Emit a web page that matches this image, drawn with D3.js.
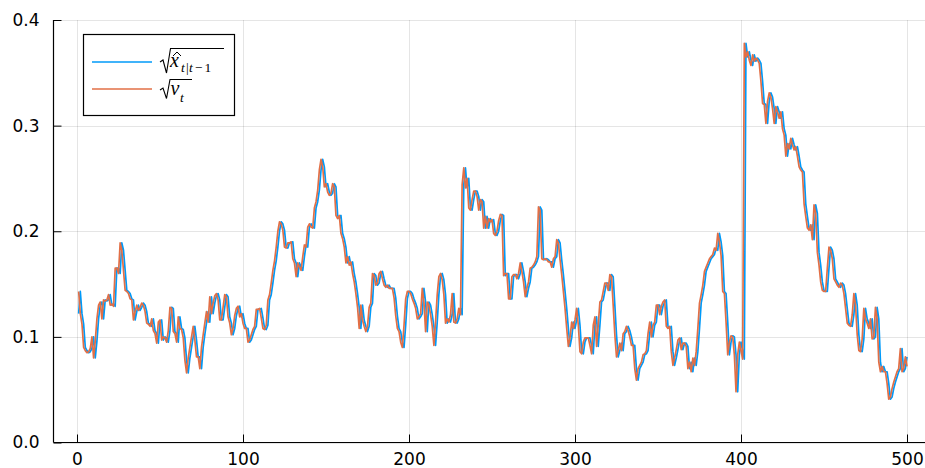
<!DOCTYPE html>
<html>
<head>
<meta charset="utf-8">
<script src="https://cdn.jsdelivr.net/npm/d3@7"></script>
<style>
  body { margin: 0; background: #fff; }
  svg { display: block; }
</style>
</head>
<body>
<svg id="chart" width="925" height="468"></svg>
<script>
// tick values
const xTicks = [0, 100, 200, 300, 400, 500];
const yTicks = [0.0, 0.1, 0.2, 0.3, 0.4];

// sqrt(x̂_{t|t-1}), t = 1..500
const predicted = [
  .122,.143,.122,.112,.090,.087,.085,.086,.089,.100,
  .080,.096,.117,.130,.133,.117,.135,.134,.135,.140,
  .130,.131,.129,.165,.165,.160,.189,.182,.163,.144,
  .143,.141,.136,.135,.116,.124,.130,.125,.128,.132,
  .130,.124,.113,.112,.110,.117,.106,.103,.094,.114,
  .116,.097,.100,.099,.095,.106,.128,.127,.105,.103,
  .095,.119,.108,.107,.099,.078,.066,.080,.090,.100,
  .110,.097,.081,.081,.070,.090,.102,.113,.124,.114,
  .138,.122,.132,.139,.141,.135,.116,.116,.128,.140,
  .138,.119,.113,.102,.108,.120,.127,.129,.119,.122,
  .113,.108,.108,.095,.097,.102,.107,.110,.126,.126,
  .127,.118,.108,.107,.111,.135,.140,.151,.163,.172,
  .185,.200,.209,.207,.201,.185,.184,.189,.189,.190,
  .174,.170,.157,.170,.166,.163,.176,.187,.185,.204,
  .207,.204,.203,.222,.228,.239,.258,.268,.261,.242,
  .245,.237,.234,.236,.245,.242,.215,.212,.215,.198,
  .193,.185,.170,.176,.168,.171,.160,.152,.141,.128,
  .108,.130,.116,.110,.105,.110,.128,.132,.160,.158,
  .149,.151,.160,.162,.155,.149,.147,.149,.146,.146,
  .146,.137,.120,.108,.105,.095,.090,.111,.136,.143,
  .143,.141,.136,.132,.127,.117,.119,.122,.146,.133,
  .105,.133,.130,.121,.110,.092,.114,.140,.157,.160,
  .154,.140,.113,.117,.114,.121,.141,.114,.113,.117,
  .127,.121,.244,.260,.241,.250,.222,.220,.230,.238,
  .238,.233,.220,.230,.228,.203,.214,.203,.212,.209,
  .211,.198,.196,.200,.210,.216,.215,.158,.160,.160,
  .136,.136,.157,.159,.159,.155,.160,.170,.162,.152,
  .138,.146,.152,.165,.166,.168,.171,.176,.223,.220,
  .174,.173,.174,.173,.171,.171,.166,.174,.176,.192,
  .189,.173,.159,.143,.127,.108,.091,.099,.114,.108,
  .116,.127,.111,.086,.084,.095,.099,.099,.099,.092,
  .084,.111,.119,.091,.111,.133,.135,.143,.151,.151,
  .144,.159,.157,.130,.102,.081,.087,.094,.087,.103,
  .105,.110,.106,.100,.092,.092,.070,.059,.070,.073,
  .076,.083,.084,.087,.103,.114,.100,.111,.114,.130,
  .130,.121,.129,.133,.135,.110,.108,.110,.086,.073,
  .080,.088,.097,.099,.088,.094,.094,.091,.070,.076,
  .067,.080,.073,.086,.108,.132,.140,.149,.162,.166,
  .170,.174,.176,.178,.184,.182,.198,.190,.177,.143,
  .141,.114,.083,.095,.101,.100,.083,.048,.083,.095,
  .087,.079,.378,.365,.370,.362,.357,.367,.361,.364,
  .362,.359,.342,.321,.320,.302,.323,.331,.327,.316,
  .302,.318,.313,.307,.313,.297,.291,.271,.283,.278,
  .288,.282,.277,.280,.271,.261,.258,.256,.226,.214,
  .203,.201,.206,.192,.225,.217,.180,.168,.152,.144,
  .143,.143,.165,.185,.182,.174,.155,.152,.149,.147,
  .151,.149,.141,.127,.113,.111,.110,.121,.141,.130,
  .102,.087,.086,.098,.127,.117,.113,.108,.117,.098,
  .100,.128,.117,.076,.067,.072,.067,.067,.056,.041,
  .043,.051,.057,.062,.067,.070,.089,.067,.070,.081
];

// sqrt(v_t), t = 1..500
const observed = [
  .143,.122,.112,.090,.087,.085,.086,.089,.100,.080,
  .096,.117,.130,.133,.117,.135,.134,.135,.140,.130,
  .131,.129,.165,.165,.160,.189,.182,.163,.144,.143,
  .141,.136,.135,.116,.124,.130,.125,.128,.132,.130,
  .124,.113,.112,.110,.117,.106,.103,.094,.114,.116,
  .097,.100,.099,.095,.106,.128,.127,.105,.103,.095,
  .119,.108,.107,.099,.078,.066,.080,.090,.100,.110,
  .097,.081,.081,.070,.090,.102,.113,.124,.114,.138,
  .122,.132,.139,.141,.135,.116,.116,.128,.140,.138,
  .119,.113,.102,.108,.120,.127,.129,.119,.122,.113,
  .108,.108,.095,.097,.102,.107,.110,.126,.126,.127,
  .118,.108,.107,.111,.135,.140,.151,.163,.172,.185,
  .200,.209,.207,.201,.185,.184,.189,.189,.190,.174,
  .170,.157,.170,.166,.163,.176,.187,.185,.204,.207,
  .204,.203,.222,.228,.239,.258,.268,.261,.242,.245,
  .237,.234,.236,.245,.242,.215,.212,.215,.198,.193,
  .185,.170,.176,.168,.171,.160,.152,.141,.128,.108,
  .130,.116,.110,.105,.110,.128,.132,.160,.158,.149,
  .151,.160,.162,.155,.149,.147,.149,.146,.146,.146,
  .137,.120,.108,.105,.095,.090,.111,.136,.143,.143,
  .141,.136,.132,.127,.117,.119,.122,.146,.133,.105,
  .133,.130,.121,.110,.092,.114,.140,.157,.160,.154,
  .140,.113,.117,.114,.121,.141,.114,.113,.117,.127,
  .121,.244,.260,.241,.250,.222,.220,.230,.238,.238,
  .233,.220,.230,.228,.203,.214,.203,.212,.209,.211,
  .198,.196,.200,.210,.216,.215,.158,.160,.160,.136,
  .136,.157,.159,.159,.155,.160,.170,.162,.152,.138,
  .146,.152,.165,.166,.168,.171,.176,.223,.220,.174,
  .173,.174,.173,.171,.171,.166,.174,.176,.192,.189,
  .173,.159,.143,.127,.108,.091,.099,.114,.108,.116,
  .127,.111,.086,.084,.095,.099,.099,.099,.092,.084,
  .111,.119,.091,.111,.133,.135,.143,.151,.151,.144,
  .159,.157,.130,.102,.081,.087,.094,.087,.103,.105,
  .110,.106,.100,.092,.092,.070,.059,.070,.073,.076,
  .083,.084,.087,.103,.114,.100,.111,.114,.130,.130,
  .121,.129,.133,.135,.110,.108,.110,.086,.073,.080,
  .088,.097,.099,.088,.094,.094,.091,.070,.076,.067,
  .080,.073,.086,.108,.132,.140,.149,.162,.166,.170,
  .174,.176,.178,.184,.182,.198,.190,.177,.143,.141,
  .114,.083,.095,.101,.100,.083,.048,.083,.095,.087,
  .079,.378,.365,.370,.362,.357,.367,.361,.364,.362,
  .359,.342,.321,.320,.302,.323,.331,.327,.316,.302,
  .318,.313,.307,.313,.297,.291,.271,.283,.278,.288,
  .282,.277,.280,.271,.261,.258,.256,.226,.214,.203,
  .201,.206,.192,.225,.217,.180,.168,.152,.144,.143,
  .143,.165,.185,.182,.174,.155,.152,.149,.147,.151,
  .149,.141,.127,.113,.111,.110,.121,.141,.130,.102,
  .087,.086,.098,.127,.117,.113,.108,.117,.098,.100,
  .128,.117,.076,.067,.072,.067,.067,.056,.041,.043,
  .051,.057,.062,.067,.070,.089,.067,.070,.081,.072
];

const blue = "#009AF9";
const orange = "#E26F46";

const svg = d3.select("#chart");

// plot frame (pixels)
const frameLeft = 53.5, frameRight = 925, frameTop = 20, frameBottom = 442.5;

const x = d3.scaleLinear().domain([0, 500]).range([77, 907]);
const y = d3.scaleLinear().domain([0, 0.4]).range([frameBottom, frameTop]);

// grid
const grid = svg.append("g")
    .attr("stroke", "#000")
    .attr("stroke-opacity", 0.1)
    .attr("stroke-width", 1);

grid.selectAll("line.gx")
    .data(xTicks)
    .join("line")
    .attr("class", "gx")
    .attr("x1", d => Math.round(x(d)) + 0.5)
    .attr("x2", d => Math.round(x(d)) + 0.5)
    .attr("y1", frameTop)
    .attr("y2", frameBottom);

grid.selectAll("line.gy")
    .data(yTicks)
    .join("line")
    .attr("class", "gy")
    .attr("y1", d => Math.round(y(d)) + 0.5)
    .attr("y2", d => Math.round(y(d)) + 0.5)
    .attr("x1", frameLeft)
    .attr("x2", frameRight);

// axes (ticks point inward like the GR backend)
const xAxis = svg.append("g")
    .attr("transform", `translate(0,${frameBottom})`)
    .call(d3.axisBottom(x).tickValues(xTicks).tickSize(-8).tickPadding(10).tickFormat(d3.format("d")));

const yAxis = svg.append("g")
    .attr("transform", `translate(${frameLeft},0)`)
    .call(d3.axisLeft(y).tickValues(yTicks).tickSize(-8).tickPadding(14).tickFormat(d3.format(".1f")));

[xAxis, yAxis].forEach(g => {
    g.select(".domain").remove();
    g.selectAll("line").attr("stroke", "#000").attr("stroke-width", 1);
    g.selectAll("text")
        .attr("fill", "#000")
        .style("font-family", "'DejaVu Sans', sans-serif")
        .style("font-size", "17px");
});

svg.append("line")
    .attr("x1", frameLeft).attr("x2", frameLeft)
    .attr("y1", frameTop).attr("y2", frameBottom)
    .attr("stroke", "#000").attr("stroke-width", 1.2);

svg.append("line")
    .attr("x1", frameLeft).attr("x2", frameRight)
    .attr("y1", frameBottom).attr("y2", frameBottom)
    .attr("stroke", "#000").attr("stroke-width", 1.2);

// series
const line = d3.line()
    .x((d, i) => x(i + 1))
    .y(d => y(d));

svg.append("path")
    .datum(predicted)
    .attr("fill", "none")
    .attr("stroke", blue)
    .attr("stroke-width", 1.7)
    .attr("stroke-linejoin", "round")
    .attr("d", line);

svg.append("path")
    .datum(observed)
    .attr("fill", "none")
    .attr("stroke", orange)
    .attr("stroke-width", 1.7)
    .attr("stroke-linejoin", "round")
    .attr("d", line);

// legend
const legend = svg.append("g");

legend.append("rect")
    .attr("x", 83.5).attr("y", 34.5)
    .attr("width", 151).attr("height", 81)
    .attr("fill", "#fff")
    .attr("stroke", "#000")
    .attr("stroke-width", 1.2);

legend.append("line")
    .attr("x1", 92).attr("x2", 152)
    .attr("y1", 62).attr("y2", 62)
    .attr("stroke", blue).attr("stroke-width", 1.7);

legend.append("line")
    .attr("x1", 92).attr("x2", 152)
    .attr("y1", 89).attr("y2", 89)
    .attr("stroke", orange).attr("stroke-width", 1.7);

// radical signs and hat
legend.append("path")
    .attr("d", "M160,62 L163,60 L166.5,73 L170.5,48.5 L224,48.5")
    .attr("fill", "none").attr("stroke", "#000").attr("stroke-width", 1.1);

legend.append("path")
    .attr("d", "M160,90 L163,88 L166.5,98.5 L170,79.5 L192,79.5")
    .attr("fill", "none").attr("stroke", "#000").attr("stroke-width", 1.1);

legend.append("path")
    .attr("d", "M173,56 L177,52 L181,56")
    .attr("fill", "none").attr("stroke", "#000").attr("stroke-width", 1);

const mathFont = "'Liberation Serif', 'DejaVu Serif', serif";

function mathText(tx, ty, size, italic, str) {
    legend.append("text")
        .attr("x", tx).attr("y", ty)
        .style("font-family", mathFont)
        .style("font-size", size + "px")
        .style("font-style", italic ? "italic" : "normal")
        .text(str);
}

// x̂ with subscript t|t−1
mathText(170, 66.5, 20, true, "x");
mathText(181, 72, 13.5, true, "t");
mathText(186, 72, 13.5, false, "|");
mathText(189, 72, 13.5, true, "t");
mathText(195, 72, 13.5, false, "\u2212");
mathText(204.5, 72, 13.5, false, "1");

// v with subscript t
mathText(170.5, 95, 20, true, "v");
mathText(180, 102, 13.5, true, "t");
</script>
</body>
</html>
